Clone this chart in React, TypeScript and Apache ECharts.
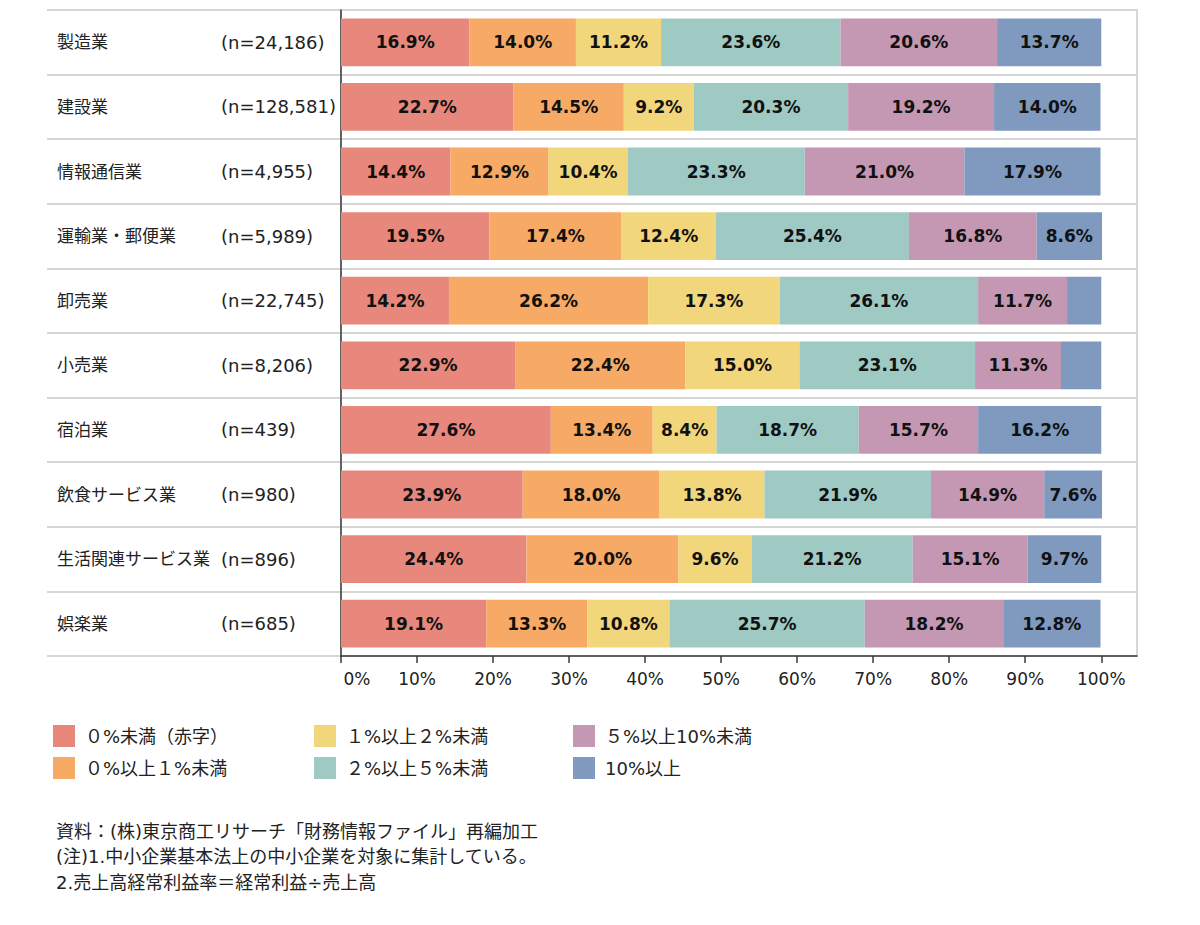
import React, { useEffect, useRef } from 'react';
import * as echarts from 'echarts';

const categories = ['製造業', '建設業', '情報通信業', '運輸業・郵便業', '卸売業', '小売業', '宿泊業', '飲食サービス業', '生活関連サービス業', '娯楽業'];
const sampleSizes = ['(n=24,186)', '(n=128,581)', '(n=4,955)', '(n=5,989)', '(n=22,745)', '(n=8,206)', '(n=439)', '(n=980)', '(n=896)', '(n=685)'];
const seriesNames = ['０%未満（赤字）', '０%以上１%未満', '１%以上２%未満', '２%以上５%未満', '５%以上10%未満', '10%以上'];
const lossValues = [16.9, 22.7, 14.4, 19.5, 14.2, 22.9, 27.6, 23.9, 24.4, 19.1];
const under1Values = [14.0, 14.5, 12.9, 17.4, 26.2, 22.4, 13.4, 18.0, 20.0, 13.3];
const under2Values = [11.2, 9.2, 10.4, 12.4, 17.3, 15.0, 8.4, 13.8, 9.6, 10.8];
const under5Values = [23.6, 20.3, 23.3, 25.4, 26.1, 23.1, 18.7, 21.9, 21.2, 25.7];
const under10Values = [20.6, 19.2, 21.0, 16.8, 11.7, 11.3, 15.7, 14.9, 15.1, 18.2];
const over10Values = [13.7, 14.0, 17.9, 8.6, 4.5, 5.3, 16.2, 7.6, 9.7, 12.8];
const tickValues = [0, 10, 20, 30, 40, 50, 60, 70, 80, 90, 100];
const notes = [
  '資料：(株)東京商工リサーチ「財務情報ファイル」再編加工',
  '(注)1.中小企業基本法上の中小企業を対象に集計している。',
  '2.売上高経常利益率＝経常利益÷売上高',
];

const colors = ['#E8887C', '#F6AA66', '#F2D67B', '#9FCAC4', '#C498B2', '#7F99BF'];
const FONT = "'DejaVu Sans', 'Noto Sans CJK JP', sans-serif";
const GRID_LINE = '#d6d6d6';
const AXIS = '#3a3a3a';

export default function App() {
  const ref = useRef<HTMLDivElement>(null);

  useEffect(() => {
    if (!ref.current) return;
    const chart = echarts.init(ref.current, undefined, { renderer: 'svg' });
    const allValues = [lossValues, under1Values, under2Values, under5Values, under10Values, over10Values];

    const series = allValues.map((vals, i) => ({
      name: seriesNames[i],
      type: 'bar',
      stack: 'total',
      xAxisIndex: 0,
      yAxisIndex: 0,
      barCategoryGap: '26%',
      data: vals,
      itemStyle: { color: colors[i] },
      label: {
        show: true,
        position: 'inside',
        color: '#111',
        fontFamily: FONT,
        fontWeight: 'bold',
        fontSize: 17,
        formatter: (p: any) => (p.value >= 6 ? p.value.toFixed(1) + '%' : ''),
      },
    }));

    const legendCols = [[0, 1], [2, 3], [4, 5]];
    const legendLefts = [53, 314, 573];

    chart.setOption({
      animation: false,
      textStyle: { fontFamily: FONT },
      grid: [
        { left: 341, right: 63, top: 10, bottom: 269, show: true, borderColor: GRID_LINE, borderWidth: 2, backgroundColor: 'transparent' },
        { left: 47, width: 294, top: 10, bottom: 269 },
      ],
      xAxis: [
        {
          type: 'value',
          gridIndex: 0,
          min: 0,
          max: 104.7,
          interval: 10,
          axisLine: { show: true, lineStyle: { color: AXIS, width: 1.5 } },
          axisTick: { show: true, length: 7, lineStyle: { color: AXIS, width: 1.5 }, customValues: tickValues },
          axisLabel: {
            fontFamily: FONT,
            fontSize: 17,
            color: '#222',
            margin: 14,
            customValues: tickValues,
            formatter: (v: number) => (v === 0 ? '{z|0%}' : v + '%'),
            rich: {
              z: { fontFamily: FONT, fontSize: 17, color: '#222', padding: [0, 0, 0, 32] },
            },
          },
          splitLine: { show: false },
        },
        { type: 'value', gridIndex: 1, min: 0, max: 1, show: false },
      ],
      yAxis: [
        {
          type: 'category',
          gridIndex: 0,
          inverse: true,
          data: categories,
          axisLine: { show: true, lineStyle: { color: AXIS, width: 1.5 } },
          axisTick: { show: false },
          splitLine: { show: true, lineStyle: { color: GRID_LINE, width: 2 } },
          axisLabel: {
            align: 'left',
            margin: 284,
            formatter: (v: string, idx: number) => `{name|${v}}{n|${sampleSizes[idx]}}`,
            rich: {
              name: { width: 164, fontSize: 17, color: '#222', fontFamily: FONT },
              n: { fontSize: 18, color: '#222', fontFamily: FONT },
            },
          },
        },
        {
          type: 'category',
          gridIndex: 1,
          inverse: true,
          data: categories,
          axisLine: { show: false },
          axisTick: { show: false },
          axisLabel: { show: false },
          splitLine: { show: true, lineStyle: { color: GRID_LINE, width: 2 } },
        },
      ],
      legend: legendCols.map((col, ci) => ({
        left: legendLefts[ci],
        top: 725,
        padding: 0,
        orient: 'vertical',
        itemWidth: 22,
        itemHeight: 22,
        itemGap: 10,
        icon: 'rect',
        selectedMode: false,
        data: col.map((k) => seriesNames[k]),
        textStyle: { fontSize: 18, color: '#222', fontFamily: FONT, padding: [0, 0, 0, 5] },
      })),
      graphic: notes.map((t, i) => ({
        type: 'text',
        left: 56,
        top: 822 + i * 25.5,
        style: { text: t, fontSize: 18, fill: '#222', fontFamily: FONT },
      })),
      series,
    });

    return () => chart.dispose();
  }, []);

  return <div ref={ref} style={{ position: 'fixed', left: 0, top: 0, width: 1200, height: 925, background: '#fff' }} />;
}
